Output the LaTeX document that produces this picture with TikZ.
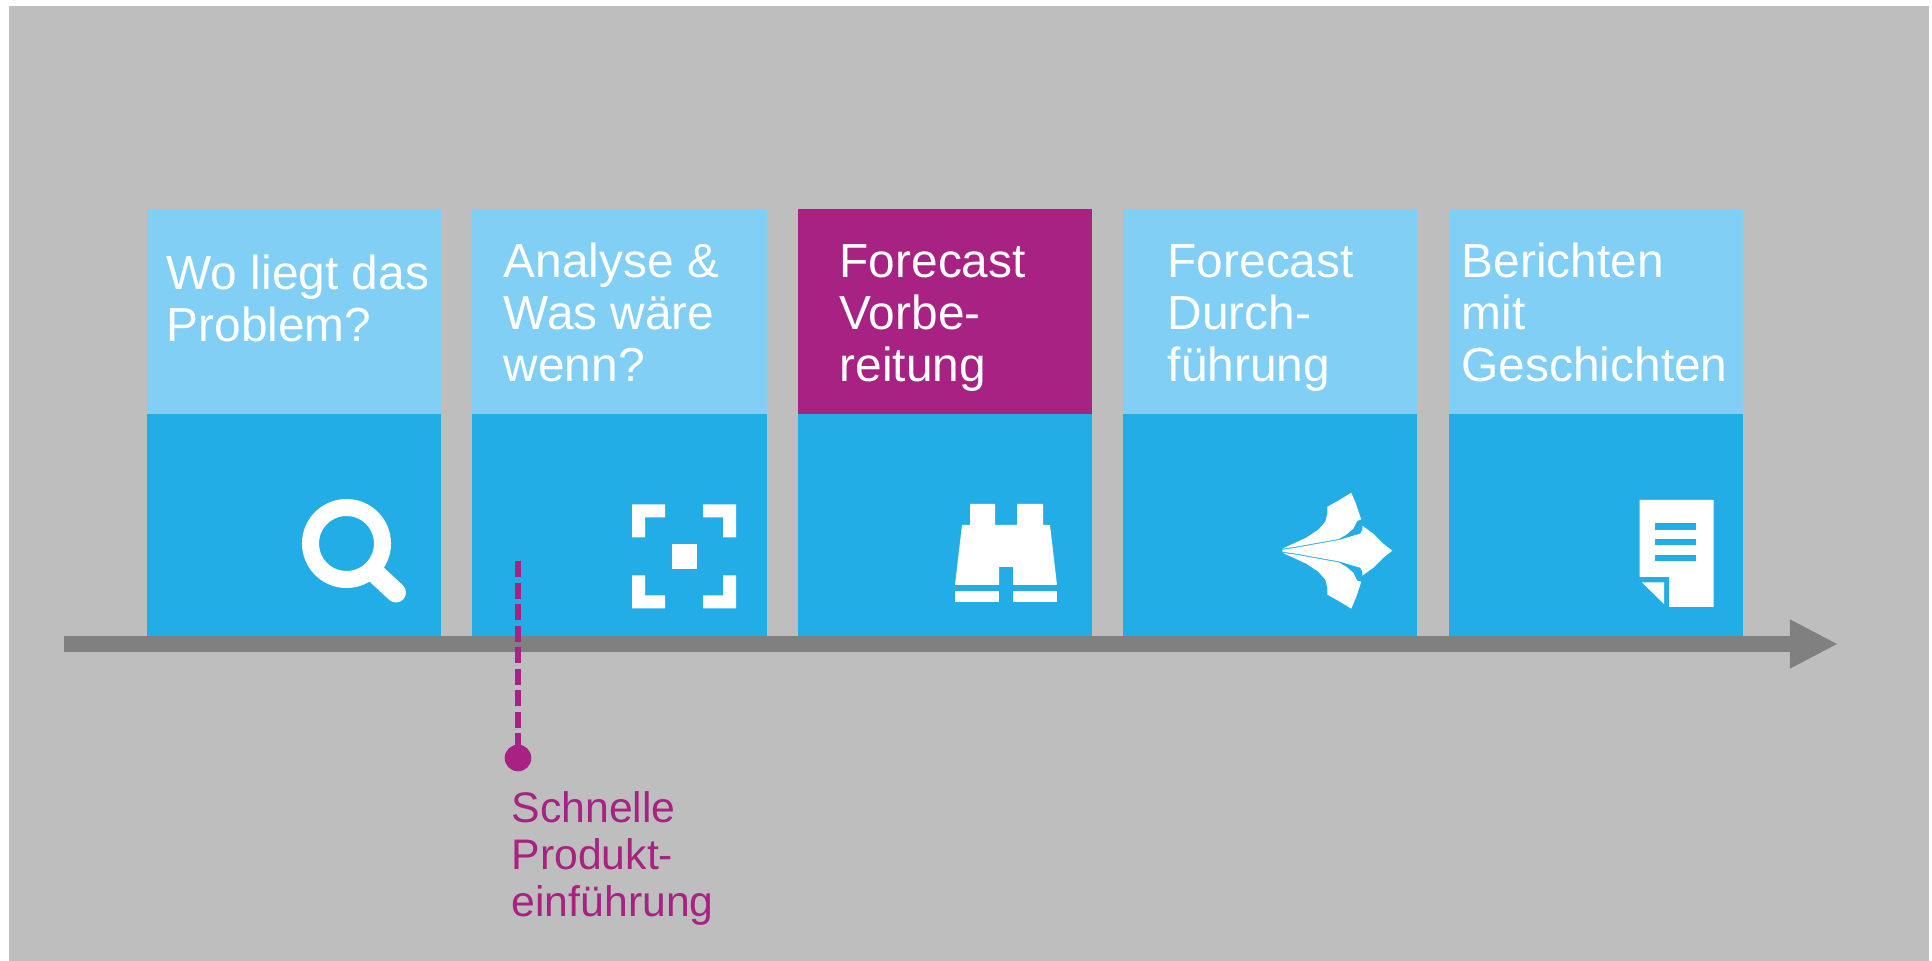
\documentclass[tikz,border=0pt]{standalone}
\usepackage{fontspec}
\setmainfont{Liberation Sans}
\usetikzlibrary{positioning,arrows.meta}
\definecolor{backgrey}{HTML}{BEBEBE}
\definecolor{axisgrey}{HTML}{808080}
\definecolor{lightblue}{HTML}{82CFF6}
\definecolor{darkblue}{HTML}{23ADE6}
\definecolor{magenta}{HTML}{A72282}

\begin{document}
\begin{tikzpicture}[x=0.01cm,y=-0.01cm,node distance=3.125mm,
                    head/.style={fill=lightblue,minimum width=2.94cm,minimum height=2.05cm,inner sep=0pt,outer sep=0pt},
                    body/.style={fill=darkblue,minimum width=2.94cm,minimum height=2.22cm,inner sep=0pt,outer sep=0pt},
                    headtext/.style={anchor=base west,inner sep=0pt,align=left,text=white,font=\fontsize{13.6}{14.8}\selectfont},
                    notetext/.style={anchor=base west,inner sep=0pt,align=left,text=magenta,font=\fontsize{12.15}{13.3}\selectfont},
                    dot/.style={circle,fill=magenta,minimum size=0.266cm,inner sep=0pt,outer sep=0pt},
                    axisline/.style={axisgrey,line width=0.16cm,-{Triangle[length=0.48cm,width=0.455cm]}},
                    dashline/.style={magenta,line width=0.06cm,dash pattern=on 1.6mm off 0.55mm},
                    icon/.style={fill=white}]

  \useasboundingbox (0,0) rectangle (1932,961);
  \fill[backgrey] (8.5,6.5) rectangle (1929,961);

  \node[head,anchor=north west] (head1) at (147,209) {};
  \node[head] (head2) [right=of head1] {};
  \node[head,fill=magenta] (head3) [right=of head2] {};
  \node[head] (head4) [right=of head3] {};
  \node[head] (head5) [right=of head4] {};

  \node[body] (body1) [below=0pt of head1] {};
  \node[body] (body2) [below=0pt of head2] {};
  \node[body] (body3) [below=0pt of head3] {};
  \node[body] (body4) [below=0pt of head4] {};
  \node[body] (body5) [below=0pt of head5] {};

  \node[headtext] (text1) at (166,342) {Wo liegt das\\Problem?};
  \node[headtext] (text2) at (503,382) {Analyse \&\\Was wäre\\wenn?};
  \node[headtext] (text3) at (839,382) {Forecast\\Vorbe-\\reitung};
  \node[headtext] (text4) at (1167,382) {Forecast\\Durch-\\führung};
  \node[headtext] (text5) at (1461,382) {Berichten\\mit\\Geschichten};

  \coordinate (axisstart) at (64,644);
  \coordinate (axistip) at (1838,644);
  \draw[axisline] (axisstart) -- (axistip);

  \coordinate (dashstart) at (518,561);
  \node[dot] (dot1) at (518,758) {};
  \draw[dashline] (dashstart) -- (dot1);
  \node[notetext] (note) at (511,916) {Schnelle\\Produkt-\\einführung};

  \draw[white,line width=0.17cm] (346.5,543.5) circle (36);
  \draw[white,line width=0.2cm,line cap=round] (375,573) -- (396,592.5);

  \foreach \sx/\sy in {1/1,1/-1,-1/1,-1/-1}
    \fill[icon,shift={(684,556.5)},xscale=\sx,yscale=\sy]
      (-52,-52) -- (-19,-52) -- (-19,-39) -- (-39,-39) -- (-39,-19) -- (-52,-19) -- cycle;
  \fill[icon] (672,544) rectangle (697,569);

  \fill[icon] (970,504) -- (995,504) -- (995,525) -- (1017,525) -- (1017,504) -- (1043,504)
    -- (1043,525) -- (1050,525) -- (1057,585) -- (1013,585) -- (1013,567) -- (999,567)
    -- (999,585) -- (955,585) -- (962,525) -- (970,525) -- cycle;
  \fill[icon] (955,591) rectangle (999,602.5);
  \fill[icon] (1013,591) rectangle (1057,602.5);

  \fill[icon,shift={(1282.3,550.7)}] (0,-1) -- (14,-3) -- (44,-8.5) -- (56,-10.5) -- (71,-15) -- (78,-17)
    -- (80,-21) -- (80,-25) -- (91,-17) -- (101,-7) -- (110,0) -- (101,7) -- (91,17) -- (80,25)
    -- (80,21) -- (78,17) -- (71,15) -- (56,10.5) -- (44,8.5) -- (14,3) -- (0,1) -- cycle;
  \foreach \sy in {1,-1}
    \fill[icon,shift={(1282.3,550.7)},yscale=\sy] (0,-2) -- (11,-7) -- (24,-13) -- (36,-21) -- (43,-29)
      -- (45,-37) -- (45,-44) -- (56,-50) -- (69,-58) -- (74,-46) -- (79,-31) -- (75,-30) -- (71,-22)
      -- (64,-16) -- (56,-11.5) -- (44,-9.5) -- (14,-4) -- cycle;

  \fill[icon] (1639.5,500) -- (1713.5,500) -- (1713.5,607) -- (1669,607) -- (1669,577) -- (1639.5,577) -- cycle;
  \fill[icon] (1642,582.5) -- (1664,582.5) -- (1664,604) -- cycle;
  \fill[darkblue] (1655,523) rectangle (1696,530);
  \fill[darkblue] (1655,539) rectangle (1696,545);
  \fill[darkblue] (1655,555) rectangle (1696,561);

\end{tikzpicture}
\end{document}
